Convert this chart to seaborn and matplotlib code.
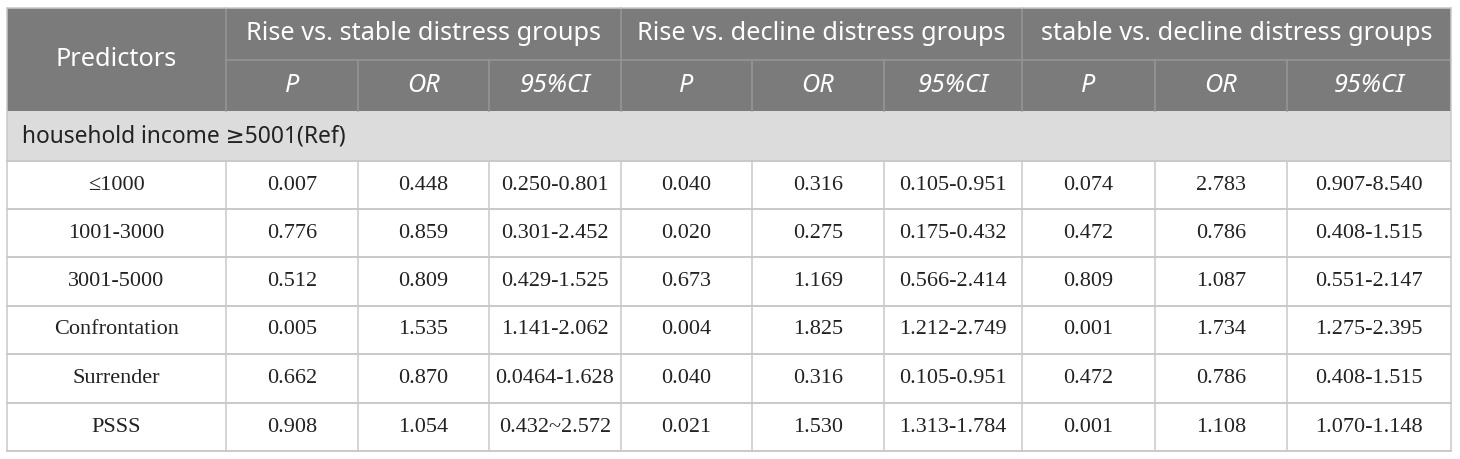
import matplotlib
matplotlib.use("Agg")
import matplotlib.pyplot as plt
import seaborn as sns
import pandas as pd

# 표 데이터
groups = ["Rise vs. stable distress groups", "Rise vs. decline distress groups",
          "stable vs. decline distress groups"]
sub_cols = ["P", "OR", "95%CI"]
section = "household income \u22655001(Ref)"
predictors = ["\u22641000", "1001-3000", "3001-5000", "Confrontation", "Surrender", "PSSS"]

rise_stable_p = ["0.007", "0.776", "0.512", "0.005", "0.662", "0.908"]
rise_stable_or = ["0.448", "0.859", "0.809", "1.535", "0.870", "1.054"]
rise_stable_ci = ["0.250-0.801", "0.301-2.452", "0.429-1.525", "1.141-2.062", "0.0464-1.628", "0.432~2.572"]
rise_decline_p = ["0.040", "0.020", "0.673", "0.004", "0.040", "0.021"]
rise_decline_or = ["0.316", "0.275", "1.169", "1.825", "0.316", "1.530"]
rise_decline_ci = ["0.105-0.951", "0.175-0.432", "0.566-2.414", "1.212-2.749", "0.105-0.951", "1.313-1.784"]
stable_decline_p = ["0.074", "0.472", "0.809", "0.001", "0.472", "0.001"]
stable_decline_or = ["2.783", "0.786", "1.087", "1.734", "0.786", "1.108"]
stable_decline_ci = ["0.907-8.540", "0.408-1.515", "0.551-2.147", "1.275-2.395", "0.408-1.515", "1.070-1.148"]

df = pd.DataFrame({
    "pred": predictors,
    "c1": rise_stable_p, "c2": rise_stable_or, "c3": rise_stable_ci,
    "c4": rise_decline_p, "c5": rise_decline_or, "c6": rise_decline_ci,
    "c7": stable_decline_p, "c8": stable_decline_or, "c9": stable_decline_ci,
})

sns.set_theme(style="white")
plt.rcParams['font.family'] = ['Noto Sans', 'DejaVu Sans']

# 레이아웃 (픽셀 좌표)
col_x = [7, 226, 358, 489, 621, 752, 884, 1022, 1155, 1287, 1451]
row_y = [8, 60, 111, 161, 209, 257, 306, 354, 403, 451]
head_bg = "#7b7b7b"
head_line = "#959595"
sec_bg = "#dcdcdc"
grid = "#c9c9c9"

fig = plt.figure(figsize=(14.6, 4.59), dpi=100)
ax = fig.add_axes([0, 0, 1, 1])
ax.set_xlim(0, 1460)
ax.set_ylim(459, 0)
ax.axis("off")

def rect(x0, y0, x1, y1, color):
    ax.add_patch(plt.Rectangle((x0, y0), x1 - x0, y1 - y0, facecolor=color, edgecolor="none"))

# 헤더 배경
rect(col_x[0], row_y[0], col_x[-1], row_y[2], head_bg)
rect(col_x[0], row_y[2], col_x[-1], row_y[3], sec_bg)

# 헤더 구분선
ax.plot([col_x[1], col_x[-1]], [row_y[1], row_y[1]], color=head_line, lw=1.2)
for i in [1, 4, 7]:
    ax.plot([col_x[i], col_x[i]], [row_y[0], row_y[2]], color=head_line, lw=1.2)
for i in [2, 3, 5, 6, 8, 9]:
    ax.plot([col_x[i], col_x[i]], [row_y[1], row_y[2]], color=head_line, lw=1.2)

# 헤더 텍스트
hfs = 18.2
ax.text((col_x[0] + col_x[1]) / 2, (row_y[0] + row_y[2]) / 2, "Predictors",
        ha="center", va="center", color="white", fontsize=hfs)
for g, name in enumerate(groups):
    x0 = col_x[1 + 3 * g]
    x1 = col_x[4 + 3 * g]
    ax.text((x0 + x1) / 2, (row_y[0] + row_y[1]) / 2, name,
            ha="center", va="center", color="white", fontsize=hfs)
    for k, sub in enumerate(sub_cols):
        c = 1 + 3 * g + k
        ax.text((col_x[c] + col_x[c + 1]) / 2, (row_y[1] + row_y[2]) / 2, sub,
                ha="center", va="center", color="white", fontsize=hfs, style="italic")

# 섹션 행
ax.text(col_x[0] + 15, (row_y[2] + row_y[3]) / 2, section,
        ha="left", va="center", color="#222222", fontsize=16.4)

# 데이터 행
cols = ["pred"] + [f"c{i}" for i in range(1, 10)]
for r in range(len(df)):
    yc = (row_y[3 + r] + row_y[4 + r]) / 2
    for c, key in enumerate(cols):
        ax.text((col_x[c] + col_x[c + 1]) / 2, yc, df[key].iloc[r],
                ha="center", va="center", color="#222222", fontsize=16,
                family=["Liberation Serif", "DejaVu Serif"])

# 격자선
for y in row_y[3:]:
    ax.plot([col_x[0], col_x[-1]], [y, y], color=grid, lw=1.4)
for x in col_x:
    ax.plot([x, x], [row_y[3], row_y[-1]], color=grid, lw=1.1)
ax.plot([col_x[0], col_x[-1]], [row_y[0], row_y[0]], color=grid, lw=1.1)
ax.plot([col_x[0], col_x[0]], [row_y[0], row_y[3]], color=grid, lw=1.1)
ax.plot([col_x[-1], col_x[-1]], [row_y[0], row_y[3]], color=grid, lw=1.1)

fig.savefig("out.png", dpi=100, facecolor="white")
